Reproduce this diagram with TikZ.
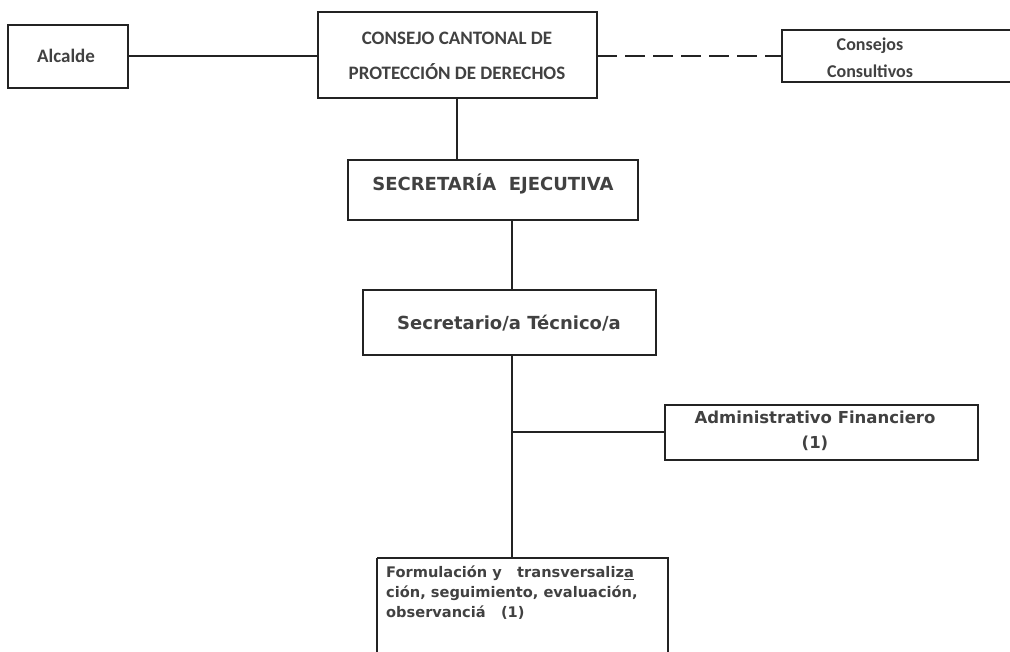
\documentclass[tikz,border=0pt]{standalone}
\usepackage{fontspec}
\setmainfont{Carlito}
\newfontfamily\wide{DejaVu Sans}
\definecolor{ink}{RGB}{35,35,35}
\definecolor{txt}{RGB}{65,65,65}
\begin{document}
\begin{tikzpicture}[x=1pt,y=-1pt,
  box/.style={draw=ink,line width=2.4pt,fill=none},
  lbl/.style={text=txt,font=\bfseries\fontsize{19}{35}\selectfont,align=center,inner sep=0pt},
  wlbl/.style={text=txt,align=center,inner sep=0pt},
  conn/.style={draw=ink,line width=2.2pt}]
\useasboundingbox (0,0) rectangle (1010,652);
% boxes
\draw[box] (8,25) rectangle (128,88);
\node[lbl] (alc) at (66,56) {Alcalde};
\coordinate (alcR) at (128,56);
\draw[box] (318,12) rectangle (597,98);
\node[lbl] (con) at (457,56) {CONSEJO CANTONAL DE\\PROTECCIÓN DE DERECHOS};
\coordinate (conL) at (318,56);
\coordinate (conR) at (597,56);
\coordinate (conB) at (457,98);
\draw[box] (1012,30) -- (782,30) -- (782,82) -- (1012,82);
\node[lbl,font=\bfseries\fontsize{18}{27}\selectfont] (cc) at (870,58) {Consejos\\Consultivos};
\coordinate (ccL) at (782,56);
\draw[box] (348,160) rectangle (638,220);
\node[wlbl,font=\wide\bfseries\fontsize{18}{22}\selectfont] (se) at (493,184) {SECRETARÍA~~EJECUTIVA};
\coordinate (seT) at (457,160);
\coordinate (seB) at (512,220);
\draw[box] (363,290) rectangle (656,355);
\node[wlbl,font=\wide\bfseries\fontsize{18}{22}\selectfont] (st) at (509,323) {Secretario/a Técnico/a};
\coordinate (stT) at (512,290);
\coordinate (stB) at (512,355);
\draw[box] (665,405) rectangle (978,460);
\node[wlbl,font=\wide\bfseries\fontsize{16.5}{25}\selectfont] (af) at (815,431) {Administrativo Financiero\\(1)};
\coordinate (afL) at (665,432);
\coordinate (br) at (512,432);
\draw[box] (377,558) -- (377,655) (668,655) -- (668,558) -- (377,558);
\node[wlbl,align=left,anchor=north west,font=\wide\bfseries\fontsize{14.6}{20}\selectfont] (fo) at (386,566) {Formulación y~~ transversaliz\underline{a}\\ción, seguimiento, evaluación,\\observanciá~~ (1)};
\coordinate (foT) at (512,558);
% connectors
\draw[conn] (alcR) -- (conL);
\draw[conn,dash pattern=on 20pt off 8pt] (conR) -- (ccL);
\draw[conn] (conB) -- (seT);
\draw[conn] (seB) -- (stT);
\draw[conn] (stB) -- (foT);
\draw[conn] (br) -- (afL);
\end{tikzpicture}
\end{document}
